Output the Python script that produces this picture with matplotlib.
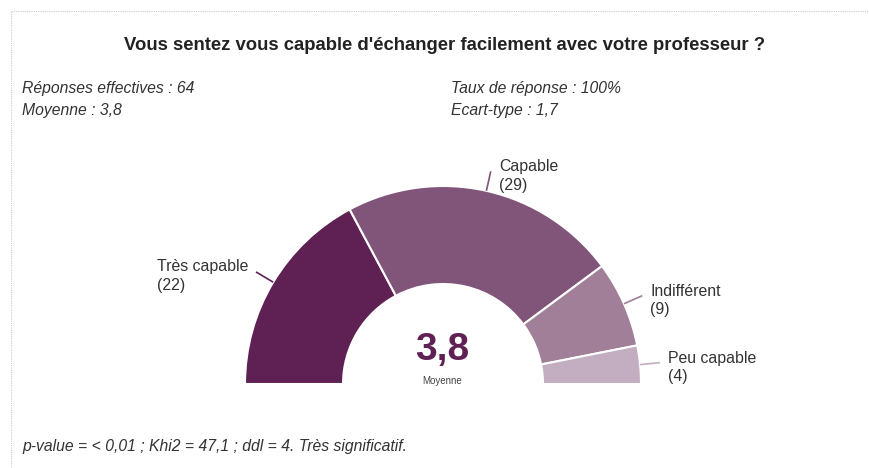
import numpy as np
import matplotlib.pyplot as plt
from matplotlib.lines import Line2D

plt.rcParams['font.family'] = ['Liberation Sans', 'DejaVu Sans']

# data
categories = ['Très capable', 'Capable', 'Indifférent', 'Peu capable']
counts = np.array([22, 29, 9, 4])
colors = ['#5f2054', '#815479', '#a17f99', '#c2aec0']
mean_txt = '3,8'

title = "Vous sentez vous capable d'échanger facilement avec votre professeur ?"
stats_left = ['Réponses effectives : 64', 'Moyenne : 3,8']
stats_right = ['Taux de réponse : 100%', 'Ecart-type : 1,7']
footer = 'p-value = < 0,01 ; Khi2 = 47,1 ; ddl = 4. Très significatif.'

W, H = 870, 468
fig = plt.figure(figsize=(W / 100, H / 100), dpi=100)
ax = fig.add_axes([0, 0, 1, 1])

# half donut: values scaled so the whole set fills 180 degrees
cx, cy = 443, H - 384
r_out, r_in = 198, 100
wedges, _ = ax.pie(counts / counts.sum() / 2, normalize=False, startangle=180,
                   counterclock=False, colors=colors, radius=r_out, center=(cx, cy),
                   wedgeprops=dict(width=r_out - r_in, edgecolor='white', linewidth=1.5))

ax.set_xlim(0, W)
ax.set_ylim(0, H)
ax.set_aspect('equal')
ax.axis('off')

# leader lines + labels
for w, name, n, c in zip(wedges, categories, counts, colors):
    mid = np.deg2rad((w.theta1 + w.theta2) / 2)
    x0, y0 = cx + r_out * np.cos(mid), cy + r_out * np.sin(mid)
    x1, y1 = cx + (r_out + 20) * np.cos(mid), cy + (r_out + 20) * np.sin(mid)
    ax.plot([x0, x1], [y0, y1], color=c, lw=1.2, solid_capstyle='butt')
    if np.cos(mid) < 0:
        ax.text(x1 - 99, y1 - 4, f'{name}\n({n})', ha='left', va='center',
                fontsize=11.4, color='#333333', linespacing=1.3)
    else:
        ax.text(x1 + 8, y1 - 5, f'{name}\n({n})', ha='left', va='center',
                fontsize=11.4, color='#333333', linespacing=1.3)

ax.text(cx - 1, H - 350, mean_txt, ha='center', va='center', fontsize=28,
        fontweight='bold', color='#5f2054')
ax.text(cx - 1, H - 381, 'Moyenne', ha='center', va='center', fontsize=7,
        color='#444444')

fig.text(445 / W, 1 - 46 / H, title, ha='center', va='center', fontsize=13.3,
         fontweight='bold', color='#222222')
for i, s in enumerate(stats_left):
    fig.text(22 / W, 1 - (88 + 22 * i) / H, s, ha='left', va='center',
             fontsize=11.3, style='italic', color='#333333')
for i, s in enumerate(stats_right):
    fig.text(451 / W, 1 - (88 + 22 * i) / H, s, ha='left', va='center',
             fontsize=11.3, style='italic', color='#333333')
fig.text(22 / W, 1 - 447 / H, footer, ha='left', va='center', fontsize=11.3,
         style='italic', color='#333333')

# dotted frame (top and left only are visible)
fig.add_artist(Line2D([11 / W, 1], [1 - 11 / H, 1 - 11 / H], color='#cccccc',
                      lw=0.8, ls=(0, (1, 1))))
fig.add_artist(Line2D([11 / W, 11 / W], [0, 1 - 11 / H], color='#cccccc',
                      lw=0.8, ls=(0, (1, 1))))

fig.savefig('out.png', dpi=100)
